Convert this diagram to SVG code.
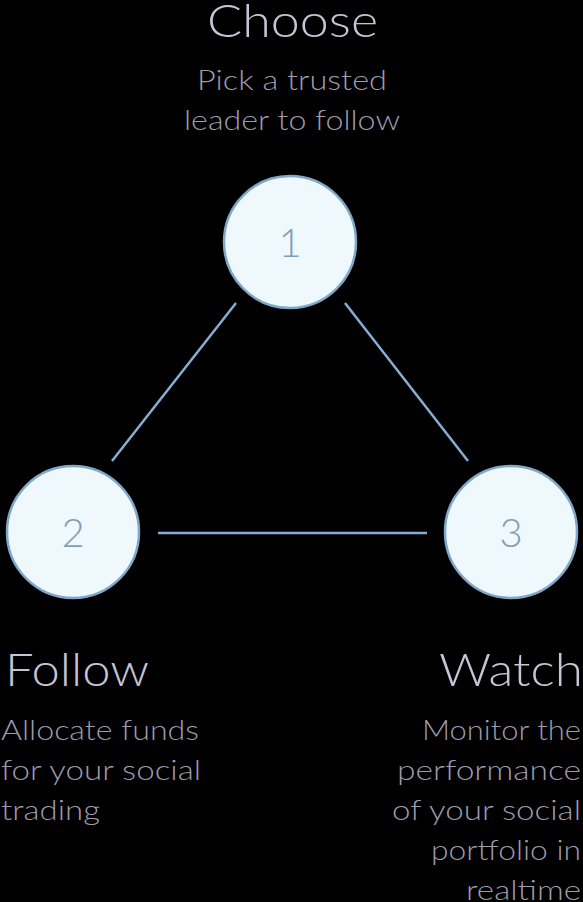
<svg xmlns="http://www.w3.org/2000/svg" width="583" height="902" viewBox="0 0 583 902">
<style>
.bg{fill:#000}
.node circle{fill:#eef8fd;stroke:#7fa8c8;stroke-width:2.5}
.num{font-family:"Lato","Noto Sans",sans-serif;font-weight:300;font-size:40px;fill:#7f9fba;text-anchor:middle}
.title{font-family:"Lato","Noto Sans",sans-serif;font-weight:300;font-size:45px;fill:#c6c4d6}
.desc{font-family:"Lato","Noto Sans",sans-serif;font-weight:300;font-size:27px;fill:#9d9bad}
.conn line{stroke:#86aed4;stroke-width:2.5}
</style>
<rect class="bg" x="0" y="0" width="583" height="902"/>
<g id="connectors" class="conn">
<line x1="236" y1="303" x2="112" y2="461"/>
<line x1="345" y1="303" x2="468" y2="461"/>
<line x1="158" y1="533" x2="427" y2="533"/>
</g>
<g id="node1" class="node">
<circle cx="290" cy="242" r="66"/>
<text class="num" x="290" y="257">1</text>
<text class="title" x="207" y="37" textLength="171" lengthAdjust="spacingAndGlyphs">Choose</text>
<text class="desc" x="197" y="90" textLength="190" lengthAdjust="spacingAndGlyphs">Pick a trusted</text>
<text class="desc" x="184" y="130" textLength="216" lengthAdjust="spacingAndGlyphs">leader to follow</text>
</g>
<g id="node2" class="node">
<circle cx="73" cy="532" r="66"/>
<text class="num" x="73" y="547">2</text>
<text class="title" x="5" y="686" textLength="144" lengthAdjust="spacingAndGlyphs">Follow</text>
<text class="desc" x="1" y="740" textLength="198" lengthAdjust="spacingAndGlyphs">Allocate funds</text>
<text class="desc" x="1" y="780" textLength="200" lengthAdjust="spacingAndGlyphs">for your social</text>
<text class="desc" x="1" y="820" textLength="99" lengthAdjust="spacingAndGlyphs">trading</text>
</g>
<g id="node3" class="node">
<circle cx="511" cy="532" r="66"/>
<text class="num" x="511" y="547">3</text>
<text class="title" x="439" y="686" textLength="144" lengthAdjust="spacingAndGlyphs">Watch</text>
<text class="desc" x="422" y="740" textLength="159" lengthAdjust="spacingAndGlyphs">Monitor the</text>
<text class="desc" x="397" y="780" textLength="184" lengthAdjust="spacingAndGlyphs">performance</text>
<text class="desc" x="392" y="820" textLength="189" lengthAdjust="spacingAndGlyphs">of your social</text>
<text class="desc" x="431" y="860" textLength="150" lengthAdjust="spacingAndGlyphs">portfolio in</text>
<text class="desc" x="466" y="900" textLength="115" lengthAdjust="spacingAndGlyphs">realtime</text>
</g>
</svg>
